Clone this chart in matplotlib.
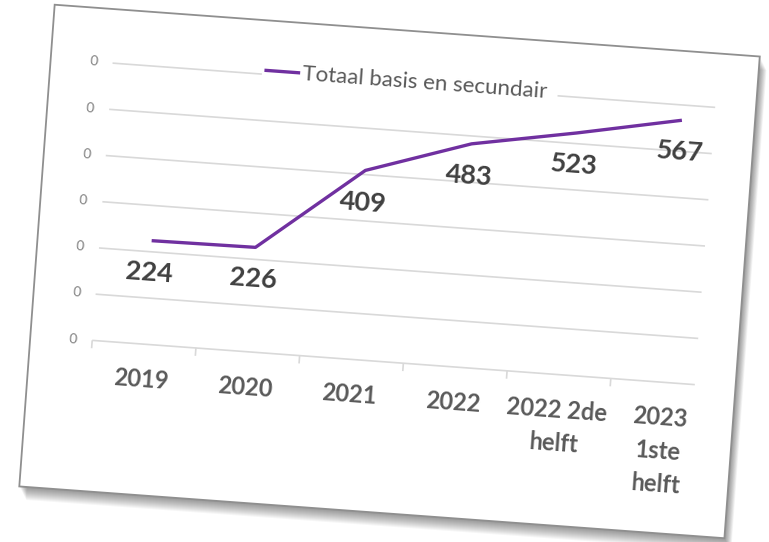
import numpy as np
import matplotlib
matplotlib.use("Agg")
import matplotlib.pyplot as plt
from matplotlib.patches import Rectangle
from matplotlib.transforms import Affine2D

# ── Data ────────────────────────────────────────────────────────────────────
categories = ["2019", "2020", "2021", "2022", "2022 2de\nhelft", "2023\n1ste\nhelft"]
totaal = [224, 226, 409, 483, 523, 567]
grid_values = [0, 100, 200, 300, 400, 500, 600]
grid_labels = ["0", "0", "0", "0", "0", "0", "0"]
series_name = "Totaal basis en secundair"

# ── Layout (pixels, figure is drawn at 100 dpi) ──────────────────────────────
W, H, DPI = 769, 542, 100
ANGLE = -4.2                 # the whole card is tilted clockwise
PURPLE = "#7030A0"
FONT = "Lato"

fig = plt.figure(figsize=(W / DPI, H / DPI), dpi=DPI)
fig.patch.set_facecolor("white")
rot = Affine2D().rotate_deg_around(390, 270, ANGLE)

# card with a soft shadow to the lower right
for d in range(1, 14):
    fig.add_artist(Rectangle((36 + d * 0.6, 29 - d), 707, 483, transform=rot,
                             fc="black", alpha=0.035, lw=0, zorder=-3))
fig.add_artist(Rectangle((36, 29), 707, 483, transform=rot, fc="white",
                         ec="#8f8f8f", lw=1.3, zorder=-1))

ax = fig.add_axes([98 / W, (H - 362) / H, 624 / W, 278 / H])
ax.axis("off")
ax.set_xlim(-0.5, 5.5)
ax.set_ylim(0, 600)
ax.set_autoscale_on(False)

tr = ax.transData + rot
ta = ax.transAxes + rot

# gridlines, axis and category ticks
ax.hlines(grid_values, -0.5, 5.31, colors="#d9d9d9", lw=1.2,
          transform=tr, clip_on=False, zorder=1)
ax.vlines(np.arange(-0.5, 5.0, 1.0), -17, 0, colors="#d9d9d9", lw=1.2,
          transform=tr, clip_on=False, zorder=1)

for g, lab in zip(grid_values, grid_labels):
    ax.text(-0.645, g, lab, transform=tr, ha="right", va="center",
            fontsize=10, color="#7f7f7f", family=FONT,
            rotation=ANGLE, rotation_mode="anchor")

# series
x = np.arange(len(totaal))
ax.plot(x, totaal, color=PURPLE, lw=2.4, transform=tr, clip_on=False,
        solid_capstyle="butt", solid_joinstyle="round", zorder=3)

for i, v in enumerate(totaal):
    ax.text(i, v - 69, str(v), transform=tr, ha="center", va="center",
            fontsize=19.5, fontweight="bold", color="#404040", family=FONT,
            rotation=ANGLE, rotation_mode="anchor", zorder=4)

for i, cat in enumerate(categories):
    ax.text(i, -52, cat, transform=tr, ha="center", va="top",
            fontsize=17, fontweight="bold", color="#595959", family=FONT,
            linespacing=1.55, rotation=ANGLE, rotation_mode="anchor")

# legend (top, drawn by hand so it tilts with the card)
ax.add_patch(Rectangle((0.240, 0.968), 0.475, 0.078, transform=ta,
                       fc="white", lw=0, clip_on=False, zorder=2))
ax.plot([0.2436, 0.301], [1.0144, 1.0144], transform=ta, color=PURPLE,
        lw=2.4, clip_on=False, solid_capstyle="butt", zorder=3)
ax.text(0.3045, 1.0108, series_name, transform=ta, ha="left", va="center",
        fontsize=16, color="#595959", family=FONT,
        rotation=ANGLE, rotation_mode="anchor", zorder=3)

fig.savefig("out.png", dpi=DPI)
